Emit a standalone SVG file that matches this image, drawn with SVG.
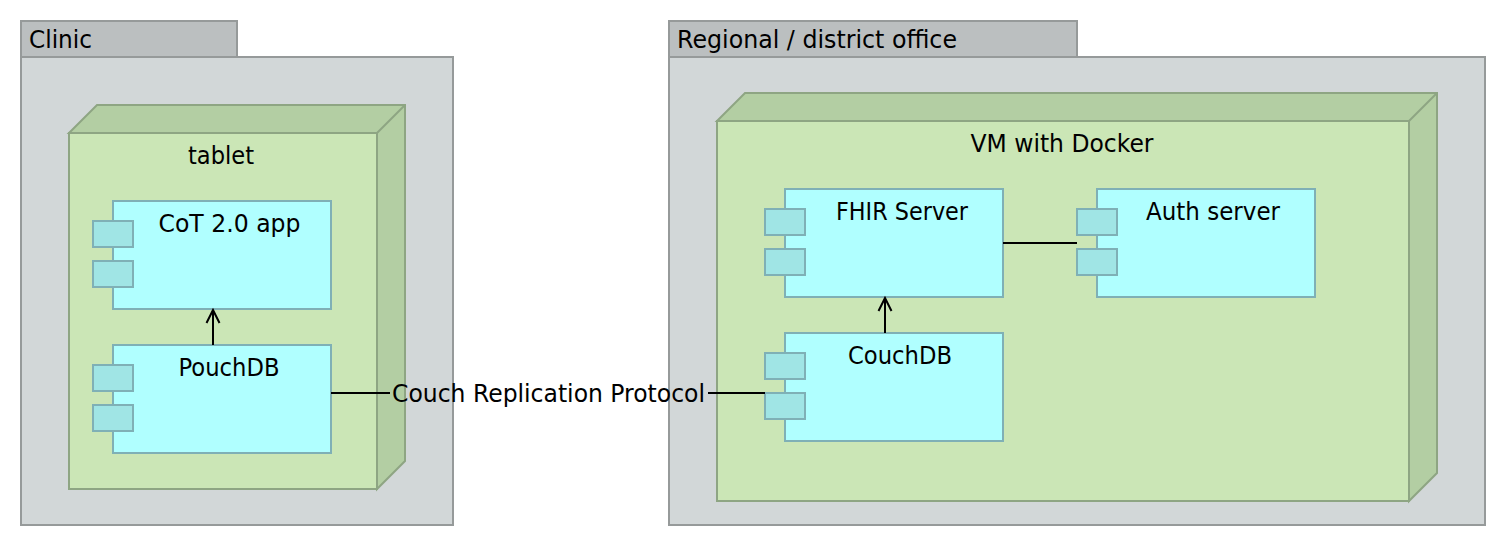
<svg xmlns="http://www.w3.org/2000/svg" width="1506" height="546" viewBox="0 0 1506 546">
<defs>
<style>
text{font-family:"DejaVu Sans","Liberation Sans",sans-serif;font-size:24px;fill:#000}
.tab{fill:#bbbfc0;stroke:#969a9a;stroke-width:2}
.frame{fill:#d2d7d8;stroke:#969a9a;stroke-width:2}
.front{fill:#cbe6b6;stroke:#8ea583;stroke-width:2}
.side{fill:#b3cea3;stroke:#8ea583;stroke-width:2;stroke-linejoin:miter}
.body{fill:#b0ffff;stroke:#7fb0b6;stroke-width:2}
.port{fill:#a0e5e5;stroke:#7fb0b6;stroke-width:2}
.line{fill:none;stroke:#000;stroke-width:2}
</style>
<g id="comp">
<rect class="body" x="20" y="0" width="218" height="108"/>
<rect class="port" x="0" y="20" width="40" height="26"/>
<rect class="port" x="0" y="60" width="40" height="26"/>
</g>
</defs>
<g id="clinic">
<rect class="tab" x="21" y="21" width="216" height="36"/>
<rect class="frame" x="21" y="57" width="432" height="468"/>
<text x="29" y="48" textLength="63" lengthAdjust="spacingAndGlyphs">Clinic</text>
</g>
<g id="tablet">
<path class="side" d="M69 133L97 105H405V461L377 489V133Z"/>
<path class="side" d="M377 133L405 105"/>
<rect class="front" x="69" y="133" width="308" height="356"/>
<text x="221" y="164" text-anchor="middle" textLength="66" lengthAdjust="spacingAndGlyphs">tablet</text>
</g>
<g id="cot-app">
<use href="#comp" x="93" y="201"/>
<text x="229.500" y="232" text-anchor="middle" textLength="142" lengthAdjust="spacingAndGlyphs">CoT 2.0 app</text>
</g>
<g id="pouchdb">
<use href="#comp" x="93" y="345"/>
<text x="229" y="376" text-anchor="middle" textLength="101" lengthAdjust="spacingAndGlyphs">PouchDB</text>
</g>
<g id="regional">
<rect class="tab" x="669" y="21" width="408" height="36"/>
<rect class="frame" x="669" y="57" width="816" height="468"/>
<text x="677" y="48" textLength="280" lengthAdjust="spacingAndGlyphs">Regional / district office</text>
</g>
<g id="vm">
<path class="side" d="M717 121L745 93H1437V473L1409 501V121Z"/>
<path class="side" d="M1409 121L1437 93"/>
<rect class="front" x="717" y="121" width="692" height="380"/>
<text x="1062" y="152" text-anchor="middle" textLength="183" lengthAdjust="spacingAndGlyphs">VM with Docker</text>
</g>
<g id="fhir-server">
<use href="#comp" x="765" y="189"/>
<text x="902" y="220" text-anchor="middle" textLength="132" lengthAdjust="spacingAndGlyphs">FHIR Server</text>
</g>
<g id="auth-server">
<use href="#comp" x="1077" y="189"/>
<text x="1213" y="220" text-anchor="middle" textLength="134" lengthAdjust="spacingAndGlyphs">Auth server</text>
</g>
<g id="couchdb">
<use href="#comp" x="765" y="333"/>
<text x="900" y="364" text-anchor="middle" textLength="104" lengthAdjust="spacingAndGlyphs">CouchDB</text>
</g>
<g id="connectors">
<path class="line" d="M213 345V310M206.500 323L213 310L219.500 323"/>
<path class="line" d="M885 333V298M878.500 311L885 298L891.500 311"/>
<path class="line" d="M1003 243H1077"/>
<path class="line" d="M331 393H390"/>
<path class="line" d="M708 393H765"/>
<text x="392" y="402" textLength="313" lengthAdjust="spacingAndGlyphs">Couch Replication Protocol</text>
</g>
</svg>
